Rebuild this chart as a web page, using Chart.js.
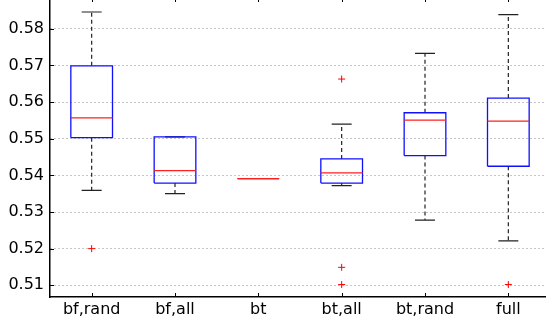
<!DOCTYPE html>
<html lang="en">
<head>
<meta charset="UTF-8">
<title>boxplot</title>
<script src="https://cdn.jsdelivr.net/npm/chart.js@4.4.1/dist/chart.umd.min.js"></script>
<style>
    html, body{
        margin:0;
        padding:0;
        overflow:hidden;
        background:#fff;
        width:546px;
        height:322px;
    }
    #board{
        position:absolute;
        left:0;
        top:-3px;
        width:550px;
        height:325px;
    }
</style>
</head>
<body>
    <div id="board">
        <canvas id="chart1" width="550" height="325"></canvas>
    </div>

<script>
    // values
    const categories = ['bf,rand', 'bf,all', 'bt', 'bt,all', 'bt,rand', 'full'];
    const whiskerHi = [0.5846, 0.5505, 0.5391, 0.5540, 0.5733, 0.5839];
    const q3        = [0.5699, 0.5505, 0.5391, 0.5445, 0.5571, 0.5611];
    const median    = [0.5557, 0.5413, 0.5391, 0.5407, 0.5551, 0.5548];
    const q1        = [0.5503, 0.5379, 0.5391, 0.5379, 0.5454, 0.5425];
    const whiskerLo = [0.5359, 0.5350, 0.5391, 0.5372, 0.5278, 0.5221];
    const outliers  = [[0.5200], [], [], [0.5663, 0.5149, 0.5102], [], [0.5102]];
    const yTicks = [0.51, 0.52, 0.53, 0.54, 0.55, 0.56, 0.57, 0.58];

    const boxHalf = 0.25;   // half box width in category units
    const capHalf = 0.12;

    const gap = (x) => ({x: x, y: null});

    // build segments from the arrays above
    let boxPts = [], medPts = [], whiskPts = [], capPts = [], outPts = [];
    categories.forEach((c, i) => {
        const x = i + 1;
        boxPts.push({x: x - boxHalf, y: q1[i]}, {x: x - boxHalf, y: q3[i]},
                    {x: x + boxHalf, y: q3[i]}, {x: x + boxHalf, y: q1[i]},
                    {x: x - boxHalf, y: q1[i]}, gap(x));
        medPts.push({x: x - boxHalf, y: median[i]}, {x: x + boxHalf, y: median[i]}, gap(x));
        if (whiskerHi[i] > q3[i]) {
            whiskPts.push({x: x, y: q3[i]}, {x: x, y: whiskerHi[i]}, gap(x));
        }
        if (whiskerLo[i] < q1[i]) {
            whiskPts.push({x: x, y: q1[i]}, {x: x, y: whiskerLo[i]}, gap(x));
        }
        if (whiskerHi[i] !== whiskerLo[i]) {
            capPts.push({x: x - capHalf, y: whiskerHi[i]}, {x: x + capHalf, y: whiskerHi[i]}, gap(x));
            capPts.push({x: x - capHalf, y: whiskerLo[i]}, {x: x + capHalf, y: whiskerLo[i]}, gap(x));
        }
        outliers[i].forEach(v => outPts.push({x: x, y: v}));
    });

    const lineSet = (data, color, width, dash) => ({
        data: data,
        showLine: true,
        spanGaps: false,
        borderColor: color,
        borderWidth: width,
        borderDash: dash || [],
        pointRadius: 0,
        fill: false,
        tension: 0
    });

    // MATLAB style ticks point into the axes box
    const inwardTicks = {
        id: 'inwardTicks',
        afterDraw(chart) {
            const {ctx, chartArea: a, scales: {x, y}} = chart;
            ctx.save();
            ctx.strokeStyle = '#000';
            ctx.lineWidth = 1;
            ctx.beginPath();
            yTicks.forEach(v => {
                const py = Math.round(y.getPixelForValue(v)) + 0.5;
                ctx.moveTo(a.left, py); ctx.lineTo(a.left + 4, py);
            });
            categories.forEach((c, i) => {
                const px = Math.round(x.getPixelForValue(i + 1)) + 0.5;
                ctx.moveTo(px, a.bottom); ctx.lineTo(px, a.bottom - 4);
                ctx.moveTo(px, a.top); ctx.lineTo(px, a.top + 5);
            });
            ctx.stroke();
            ctx.restore();
        }
    };

    const tickFont = {family: 'DejaVu Sans', size: 16};

    const ctx = document.getElementById('chart1').getContext('2d');
    new Chart(ctx, {
        type: 'scatter',
        data: {
            datasets: [
                {
                    data: outPts,
                    pointStyle: 'cross',
                    pointRadius: 3.5,
                    borderColor: '#ff0000',
                    borderWidth: 1,
                    backgroundColor: '#ff0000'
                },
                lineSet(medPts, '#ff2020', 1.2),
                lineSet(boxPts, '#1010ff', 1.3),
                lineSet(capPts, '#222', 1.2),
                lineSet(whiskPts, '#222', 1.2, [4, 3])
            ]
        },
        options: {
            responsive: false,
            animation: false,
            events: [],
            layout: {padding: 0, autoPadding: false},
            plugins: {
                legend: {display: false},
                tooltip: {enabled: false}
            },
            scales: {
                x: {
                    type: 'linear',
                    min: 0.5,
                    max: 6.5,
                    afterBuildTicks: s => { s.ticks = categories.map((c, i) => ({value: i + 1})); },
                    afterFit: s => {
                        s.height = 25;
                        s.paddingLeft = 0; s.paddingRight = 0;
                    },
                    grid: {display: false, drawTicks: false},
                    border: {display: true, color: '#000', width: 1.5},
                    ticks: {
                        color: '#000',
                        padding: 3,
                        maxRotation: 0,
                        autoSkip: false,
                        font: tickFont,
                        callback: v => categories[Math.round(v) - 1]
                    }
                },
                y: {
                    min: 0.5068,
                    max: 0.5887,
                    afterBuildTicks: s => { s.ticks = yTicks.map(v => ({value: v})); },
                    afterFit: s => {
                        s.width = 50;
                        s.paddingTop = 0; s.paddingBottom = 0;
                    },
                    grid: {color: '#8a8a8a', lineWidth: 1, drawTicks: false},
                    border: {display: true, color: '#000', width: 1.5, dash: [1, 3]},
                    ticks: {
                        color: '#000',
                        padding: 6,
                        font: tickFont,
                        callback: v => v.toFixed(2)
                    }
                }
            }
        },
        plugins: [inwardTicks]
    });
</script>
</body>
</html>
